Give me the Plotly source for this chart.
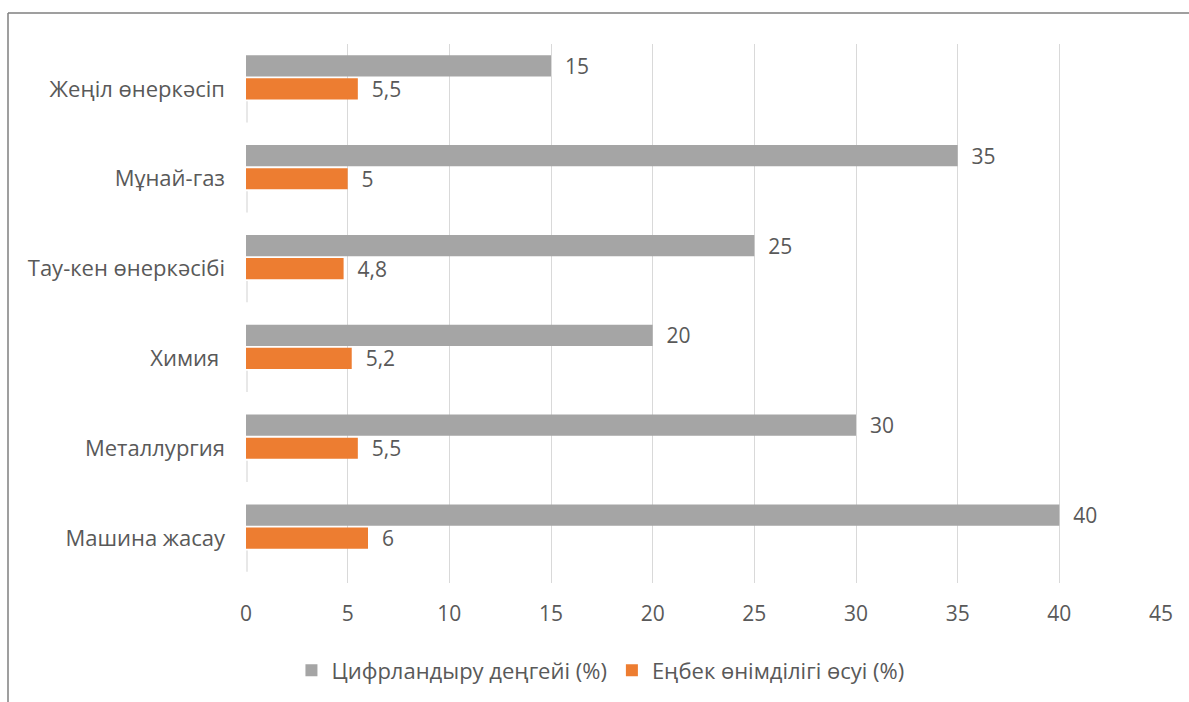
import plotly.graph_objects as go

categories = ["Жеңіл өнеркәсіп", "Мұнай-газ", "Тау-кен өнеркәсібі", "Химия ", "Металлургия", "Машина жасау"]
digital = [15, 35, 25, 20, 30, 40]
productivity = [5.5, 5, 4.8, 5.2, 5.5, 6]
third = [0.08, 0.08, 0.08, 0.08, 0.08, 0.08]
series_names = ["Цифрландыру деңгейі (%)", "Еңбек өнімділігі өсуі (%)"]
x_ticks = [0, 5, 10, 15, 20, 25, 30, 35, 40, 45]

def fmt(v):
    s = ("%g" % v).replace(".", ",")
    return "\u00a0\u00a0" + s

FONT = "Open Sans"
TXT = "#595959"
NUM = 21
LAB = 22

fig = go.Figure()
fig.add_trace(go.Bar(
    y=categories, x=digital, orientation="h", name=series_names[0],
    marker=dict(color="#a5a5a5", line=dict(width=0)),
    text=[fmt(v) for v in digital], textposition="outside", constraintext="none",
    textfont=dict(family=FONT, size=NUM, color=TXT), cliponaxis=False,
))
fig.add_trace(go.Bar(
    y=categories, x=productivity, orientation="h", name=series_names[1],
    marker=dict(color="#ed7d31", line=dict(width=0)),
    text=[fmt(v) for v in productivity], textposition="outside", constraintext="none",
    textfont=dict(family=FONT, size=NUM, color=TXT), cliponaxis=False,
))
fig.add_trace(go.Bar(
    y=categories, x=third, orientation="h", name="",
    marker=dict(color="#e8e8e8", line=dict(width=0)), showlegend=False,
    hoverinfo="skip",
))

L, R, T, B = 246, 28, 44, 119
W, H = 1189, 702
pw = W - L - R
ph = H - T - B
fx = (8 - L) / pw
fy = 1 + (T - 13) / ph

fig.update_layout(
    width=W, height=H,
    margin=dict(l=L, r=R, t=T, b=B),
    paper_bgcolor="white", plot_bgcolor="white",
    barmode="group", bargap=0.23, bargroupgap=0.08,
    font=dict(family=FONT, size=LAB, color=TXT),
    showlegend=True,
    legend=dict(orientation="h", xref="container", yref="container",
                x=0.505, xanchor="center", y=0.045, yanchor="middle",
                font=dict(family=FONT, size=LAB, color=TXT),
                itemwidth=30, tracegroupgap=0),
    xaxis=dict(range=[0, 45], tickvals=x_ticks, showgrid=True, gridcolor="#d9d9d9",
               gridwidth=1, zeroline=False, showline=False, ticks="",
               ticklabelstandoff=16, tickfont=dict(family=FONT, size=NUM, color=TXT)),
    yaxis=dict(autorange="reversed", showgrid=False, zeroline=False, showline=False,
               ticks="", ticklabelstandoff=20, tickfont=dict(family=FONT, size=LAB, color=TXT)),
    shapes=[
        dict(type="line", xref="paper", yref="paper", x0=fx, x1=fx, y0=-1, y1=fy,
             line=dict(color="#7f7f7f", width=1.5)),
        dict(type="line", xref="paper", yref="paper", x0=fx, x1=2, y0=fy, y1=fy,
             line=dict(color="#7f7f7f", width=1.5)),
    ],
)

fig.write_html("out.html")
